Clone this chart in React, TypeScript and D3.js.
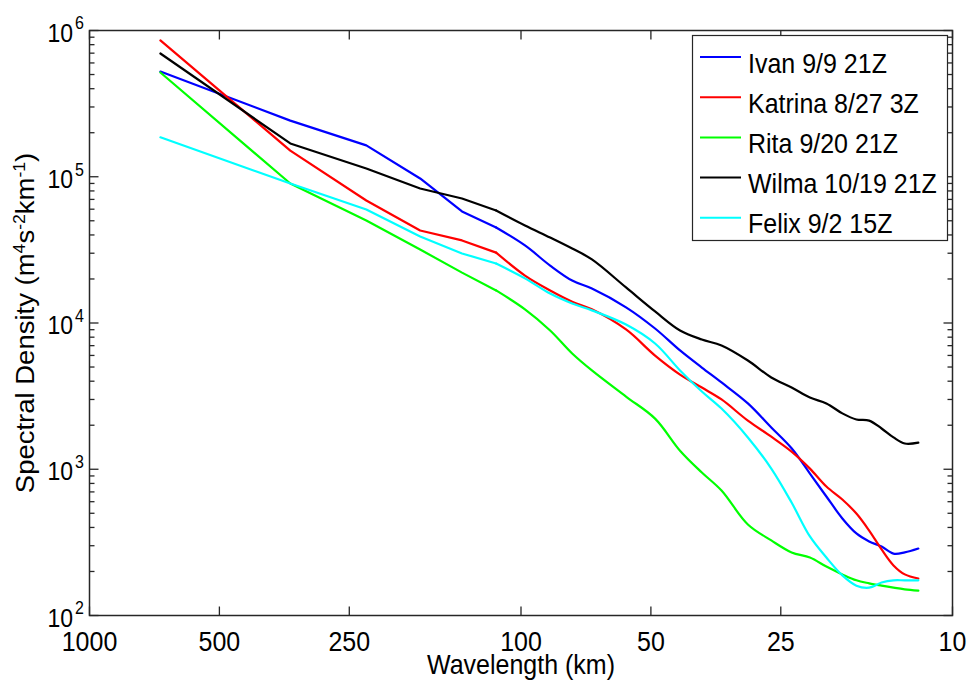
import React from 'react';
import * as d3 from 'd3';

// Wavelengths (km) of the spectral estimates
const wavelengths = [685, 342.5, 228.3, 171.3, 137, 114.2, 97.9, 85.6, 76.1, 68.5, 57.1, 48.9, 42.8, 38.1, 34.3, 29.8, 26.3, 23.6, 21.4, 19.6, 18.0, 16.7, 15.6, 14.6, 13.7, 12.9, 12.0];

const ivan = [5.24e5, 2.42e5, 1.64e5, 9.73e4, 5.79e4, 4.5e4, 3.39e4, 2.47e4, 1.95e4, 1.72e4, 1.28e4, 9170, 6490, 4960, 3920, 2820, 1930, 1390, 935, 651, 461, 364, 321, 296, 265, 270, 287];
const katrina = [8.55e5, 1.51e5, 6.88e4, 4.29e4, 3.67e4, 3.03e4, 2.11e4, 1.67e4, 1.4e4, 1.24e4, 9030, 5990, 4440, 3620, 3000, 2150, 1670, 1320, 1010, 762, 621, 498, 381, 283, 220, 191, 179];
const rita = [5.16e5, 8.99e4, 5.02e4, 3.18e4, 2.21e4, 1.67e4, 1.24e4, 8890, 6190, 4740, 3140, 2220, 1340, 950, 715, 419, 326, 270, 249, 216, 191, 174, 166, 160, 155, 151, 148];
const wilma = [6.96e5, 1.69e5, 1.14e5, 8.31e4, 7.1e4, 5.88e4, 4.64e4, 3.84e4, 3.23e4, 2.72e4, 1.75e4, 1.2e4, 8890, 7710, 7020, 5540, 4240, 3620, 3090, 2820, 2410, 2190, 2150, 1900, 1650, 1500, 1520];
const felix = [1.86e5, 8.99e4, 5.97e4, 3.9e4, 2.99e4, 2.55e4, 2.02e4, 1.59e4, 1.36e4, 1.22e4, 9760, 7240, 4740, 3400, 2600, 1650, 1010, 592, 347, 249, 188, 160, 155, 168, 174, 174, 174];

const seriesNames = ['Ivan 9/9 21Z', 'Katrina 8/27 3Z', 'Rita 9/20 21Z', 'Wilma 10/19 21Z', 'Felix 9/2 15Z'];
const seriesValues = [ivan, katrina, rita, wilma, felix];
const seriesColors = ['#0000ff', '#ff0000', '#00ff00', '#000000', '#00ffff'];

const xTickValues = [1000, 500, 250, 100, 50, 25, 10];
const xTickLabels = ['1000', '500', '250', '100', '50', '25', '10'];
const yTickExponents = [2, 3, 4, 5, 6];

const W = 968;
const H = 688;
const left = 89.5, right = 952.5, top = 30.5, bottom = 615.5;
const FONT = "'Liberation Sans', Arial, Helvetica, sans-serif";
const SY = 1.1;
const SPLIT = 5; // coarse estimates drawn straight, fine ones smoothed

export default function App() {
  const x = d3.scaleLog().domain([1000, 10]).range([left, right]);
  const y = d3.scaleLog().domain([100, 1e6]).range([bottom, top]);

  const lineStraight = d3
    .line<[number, number]>()
    .x((d) => x(d[0]))
    .y((d) => y(d[1]))
    .curve(d3.curveLinear);
  const lineSmooth = d3
    .line<[number, number]>()
    .x((d) => x(d[0]))
    .y((d) => y(d[1]))
    .curve(d3.curveCatmullRom.alpha(0.5));

  const minorY: number[] = [];
  for (let e = 2; e < 6; e++) {
    for (let m = 2; m <= 9; m++) minorY.push(m * Math.pow(10, e));
  }

  const axisColor = '#262626';
  const legX = 692, legY = 35, legW = 255, legH = 205;

  return (
    <svg
      width={W}
      height={H}
      style={{ position: 'absolute', left: 0, top: 0, background: '#fff' }}
      fontFamily={FONT}
    >
      <rect x={0} y={0} width={W} height={H} fill="#fff" />
      {/* series */}
      <g fill="none" strokeWidth={2.2} strokeLinejoin="round" strokeLinecap="round">
        {seriesValues.map((vals, i) => {
          const pts = wavelengths.map((w, j) => [w, vals[j]] as [number, number]);
          return (
            <g key={i} stroke={seriesColors[i]}>
              <path d={lineStraight(pts.slice(0, SPLIT + 1)) || ''} />
              <path d={lineSmooth(pts.slice(SPLIT)) || ''} />
            </g>
          );
        })}
      </g>

      {/* axes box */}
      <rect x={left} y={top} width={right - left} height={bottom - top} fill="none" stroke={axisColor} strokeWidth={1.5} />

      {/* ticks */}
      <g stroke={axisColor} strokeWidth={1.3}>
        {xTickValues.map((t, i) => (
          <g key={i}>
            <line x1={x(t)} x2={x(t)} y1={bottom} y2={bottom - 9} />
            <line x1={x(t)} x2={x(t)} y1={top} y2={top + 9} />
          </g>
        ))}
        {yTickExponents.map((e) => (
          <g key={e}>
            <line x1={left} x2={left + 9} y1={y(Math.pow(10, e))} y2={y(Math.pow(10, e))} />
            <line x1={right} x2={right - 9} y1={y(Math.pow(10, e))} y2={y(Math.pow(10, e))} />
          </g>
        ))}
        {minorY.map((v, i) => (
          <g key={i}>
            <line x1={left} x2={left + 5} y1={y(v)} y2={y(v)} />
            <line x1={right} x2={right - 5} y1={y(v)} y2={y(v)} />
          </g>
        ))}
      </g>

      {/* x tick labels */}
      {xTickValues.map((t, i) => (
        <g key={i} transform={`translate(${x(t)},651) scale(1,${SY})`}>
          <text x={0} y={0} textAnchor="middle" fontSize={25} fill="#000">
            {xTickLabels[i]}
          </text>
        </g>
      ))}

      {/* y tick labels */}
      {yTickExponents.map((e) => (
        <g key={e} transform={`translate(84,${y(Math.pow(10, e)) + 11}) scale(1,${SY})`}>
          <text x={0} y={0} textAnchor="end" fontSize={23} fill="#000">
            <tspan>10</tspan>
            <tspan fontSize={16} dx={2} dy={-11}>{String(e)}</tspan>
          </text>
        </g>
      ))}

      {/* x label */}
      <g transform={`translate(${(left + right) / 2},674) scale(1,${SY})`}>
        <text textAnchor="middle" fontSize={25} fill="#000">Wavelength (km)</text>
      </g>

      {/* y label */}
      <g transform={`translate(34,${(top + bottom) / 2}) scale(1,${SY}) rotate(-90)`}>
        <text textAnchor="middle" fontSize={25} fill="#000">
          <tspan>Spectral Density (m</tspan>
          <tspan fontSize={16} dy={-9}>4</tspan>
          <tspan dy={9}>s</tspan>
          <tspan fontSize={16} dy={-9}>-2</tspan>
          <tspan dy={9}>km</tspan>
          <tspan fontSize={16} dy={-9}>-1</tspan>
          <tspan dy={9}>)</tspan>
        </text>
      </g>

      {/* legend */}
      <rect x={legX + 0.5} y={legY + 0.5} width={legW} height={legH} fill="#fff" stroke={axisColor} strokeWidth={1.2} />
      {seriesNames.map((name, i) => {
        const ly = 57 + i * 40.2;
        return (
          <g key={i}>
            <line x1={700} x2={741} y1={ly} y2={ly} stroke={seriesColors[i]} strokeWidth={2} />
            <g transform={`translate(748,${ly + 15.5}) scale(1,${SY})`}>
              <text fontSize={25} fill="#000">{name}</text>
            </g>
          </g>
        );
      })}
    </svg>
  );
}
